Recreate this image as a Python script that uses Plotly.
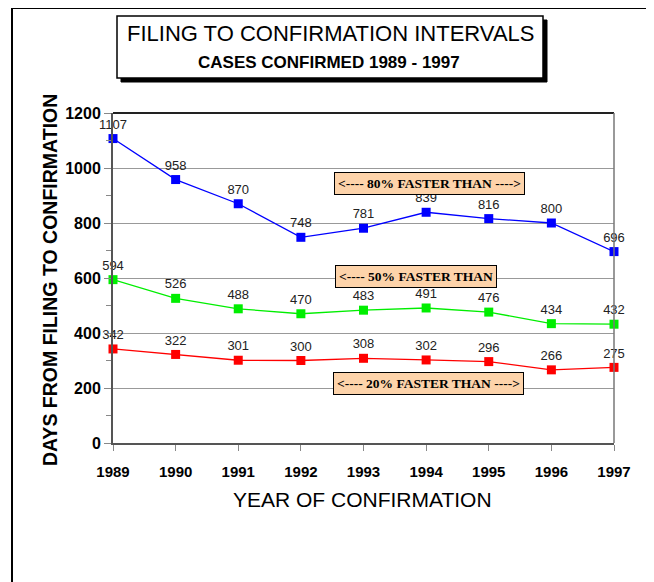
import plotly.graph_objects as go

years = [1989, 1990, 1991, 1992, 1993, 1994, 1995, 1996, 1997]
slow_80 = [1107, 958, 870, 748, 781, 839, 816, 800, 696]
mid_50 = [594, 526, 488, 470, 483, 491, 476, 434, 432]
fast_20 = [342, 322, 301, 300, 308, 302, 296, 266, 275]
y_ticks = [0, 200, 400, 600, 800, 1000, 1200]

# page has an 8px body margin; work in reference pixel coords and shift
OFF = 8
W, H = 654 - OFF, 582 - OFF
PLOT_L, PLOT_R, PLOT_T, PLOT_B = 113, 614, 113, 443  # reference pixel coords
L, R, T, B = PLOT_L - OFF, 654 - PLOT_R, PLOT_T - OFF, 582 - PLOT_B
PW, PH = PLOT_R - PLOT_L, PLOT_B - PLOT_T


def px(x):
    return (x - PLOT_L) / PW


def py(y):
    return (PLOT_B - y) / PH


SANS = "Liberation Sans, Arial, sans-serif"
SERIF = "Liberation Serif, Times New Roman, serif"

fig = go.Figure()
for vals, col in [(slow_80, "#0000ff"), (mid_50, "#00ee00"), (fast_20, "#ff0000")]:
    fig.add_trace(go.Scatter(
        x=years, y=vals, mode="lines+markers+text",
        line=dict(color=col, width=1.3),
        marker=dict(symbol="square", size=9, color=col),
        text=[str(v) for v in vals], textposition="top center",
        textfont=dict(family=SANS, size=13, color="#222"),
        cliponaxis=False, showlegend=False, hoverinfo="skip"))

shapes = [
    # outer frame
    dict(type="rect", xref="paper", yref="paper", x0=px(12), x1=px(647), y0=py(660), y1=py(8),
         line=dict(color="black", width=2), layer="below"),
    # title shadow and box
    dict(type="rect", xref="paper", yref="paper", x0=px(121), x1=px(547), y0=py(82), y1=py(20),
         line=dict(color="black", width=1), fillcolor="black"),
    dict(type="rect", xref="paper", yref="paper", x0=px(117), x1=px(543), y0=py(78), y1=py(16),
         line=dict(color="black", width=1.5), fillcolor="white"),
    # plot top border and right border
    dict(type="line", xref="paper", yref="paper", x0=0, x1=1, y0=1, y1=1,
         line=dict(color="#222", width=2)),
    dict(type="line", xref="paper", yref="paper", x0=1, x1=1, y0=0, y1=1,
         line=dict(color="#777", width=1.5)),
]

ann_font = dict(family=SERIF, size=13.5, color="black", weight="bold")
box_bg = "#fdd3aa"
C = dict(xanchor="center", yanchor="middle", showarrow=False)
annotations = [
    dict(text="FILING TO CONFIRMATION INTERVALS", xref="paper", yref="paper",
         x=px(330), y=py(33), font=dict(family=SANS, size=22, color="black"), **C),
    dict(text="<b>CASES CONFIRMED 1989 - 1997</b>", xref="paper", yref="paper",
         x=px(329), y=py(62), font=dict(family=SANS, size=17, color="black"), **C),
    dict(text="<b>DAYS FROM FILING TO CONFIRMATION</b>", xref="paper", yref="paper",
         x=px(50), y=py(280), textangle=-90,
         font=dict(family=SANS, size=19.5, color="black"), **C),
    dict(text="YEAR OF CONFIRMATION", xref="paper", yref="paper",
         x=px(362), y=py(499), font=dict(family=SANS, size=21, color="black"), **C),
    dict(text="&lt;---- 80% FASTER THAN ----&gt;", x=1994.06, y=942,
         font=ann_font, bgcolor=box_bg, bordercolor="black", borderwidth=1, borderpad=3, **C),
    dict(text="&lt;---- 50% FASTER THAN", x=1993.84, y=604,
         font=ann_font, bgcolor=box_bg, bordercolor="black", borderwidth=1, borderpad=3, **C),
    dict(text="&lt;---- 20% FASTER THAN ----&gt;", x=1994.03, y=218,
         font=ann_font, bgcolor=box_bg, bordercolor="black", borderwidth=1, borderpad=3, **C),
]

fig.update_layout(
    width=W, height=H, margin=dict(l=L, r=R, t=T, b=B, pad=0),
    paper_bgcolor="white", plot_bgcolor="white",
    shapes=shapes, annotations=annotations,
    xaxis=dict(range=[1989, 1997], tickvals=years, showgrid=False, zeroline=False,
               showline=True, linecolor="#555", linewidth=2,
               ticks="outside", ticklen=6, tickcolor="#888", ticklabelstandoff=8,
               tickfont=dict(family=SANS, size=15, color="black", weight="bold")),
    yaxis=dict(range=[0, 1200], tickvals=y_ticks, showgrid=True, gridcolor="#999", gridwidth=1,
               zeroline=False, showline=True, linecolor="#555", linewidth=2,
               ticks="outside", ticklen=7, tickcolor="#888",
               minor=dict(dtick=100, ticks="outside", ticklen=5, tickcolor="#888", showgrid=False),
               tickfont=dict(family=SANS, size=16, color="black", weight="bold")),
)

fig.write_html("out.html")
